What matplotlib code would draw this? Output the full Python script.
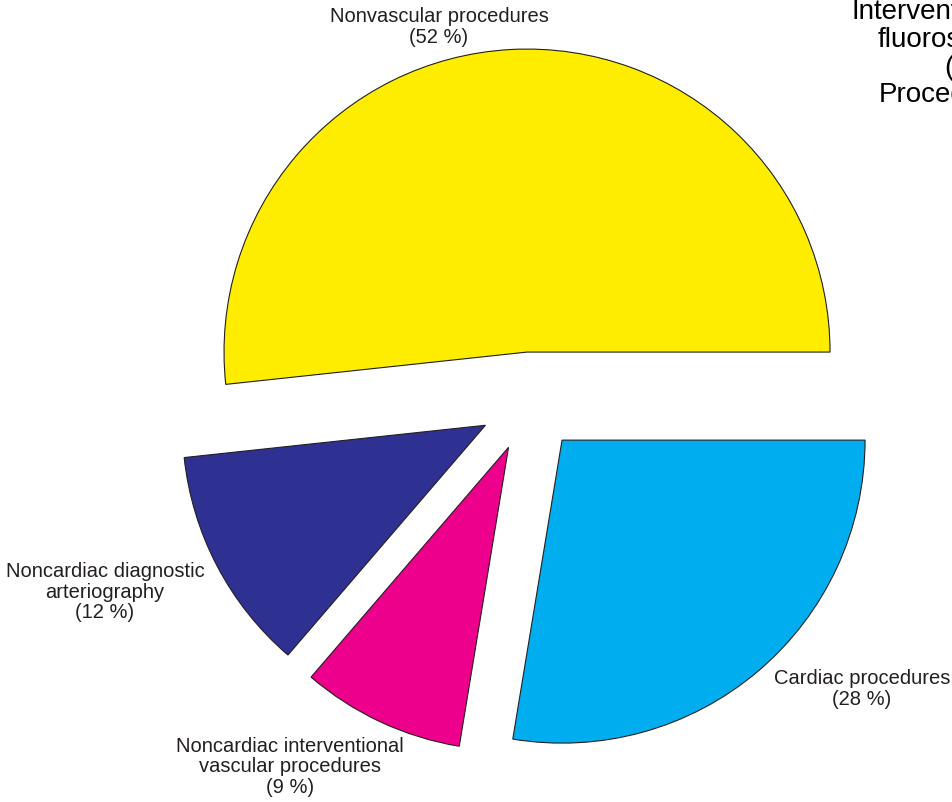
import numpy as np
import matplotlib.pyplot as plt

plt.rcParams['font.family'] = ['Liberation Sans', 'DejaVu Sans']

# share of procedures, counter-clockwise from 3 o'clock
labels = ['Nonvascular procedures', 'Noncardiac diagnostic\narteriography',
          'Noncardiac interventional\nvascular procedures', 'Cardiac procedures']
shares = [51.7, 12.0, 8.7, 27.6]
pct_text = ['52 %', '12 %', '9 %', '28 %']
colors = ['#FFED00', '#2E3192', '#EC008C', '#00AEEF']
explode = [0.165, 0.165, 0.165, 0.165]

W, H = 953, 802
fig = plt.figure(figsize=(W / 100, H / 100), dpi=100)
ax = fig.add_axes([0, 0, 1, 1])

# pixel geometry of the pie (centre and radius)
cx, cy, r = 529.7, 402.0, 303.0

ax.pie(shares, colors=colors, explode=explode, startangle=0,
       counterclock=True, radius=1,
       wedgeprops=dict(edgecolor='#231F20', linewidth=0.8))
ax.set_xlim(-cx / r, (W - cx) / r)
ax.set_ylim(-(H - cy) / r, cy / r)
ax.set_aspect('equal')
ax.axis('off')

# label centres in pixels
label_px = [(439, 27), (105, 592), (290, 767), (862, 689)]
for lab, pct, (px, py) in zip(labels, pct_text, label_px):
    ax.text((px - cx) / r, (cy - py) / r, '{}\n({})'.format(lab, pct),
            ha='center', va='center', fontsize=14.5, color='#231F20',
            linespacing=1.08)

title_lines = ['Interventional', 'fluoroscopy', '(%)', 'Procedures']
title_x = [852, 878, 944, 879]
title_y = [19, 47, 75, 102]
for t, x, y in zip(title_lines, title_x, title_y):
    fig.text(x / W, 1 - y / H, t, ha='left', va='baseline', fontsize=20,
             color='black')

fig.savefig('out.png', dpi=100)
